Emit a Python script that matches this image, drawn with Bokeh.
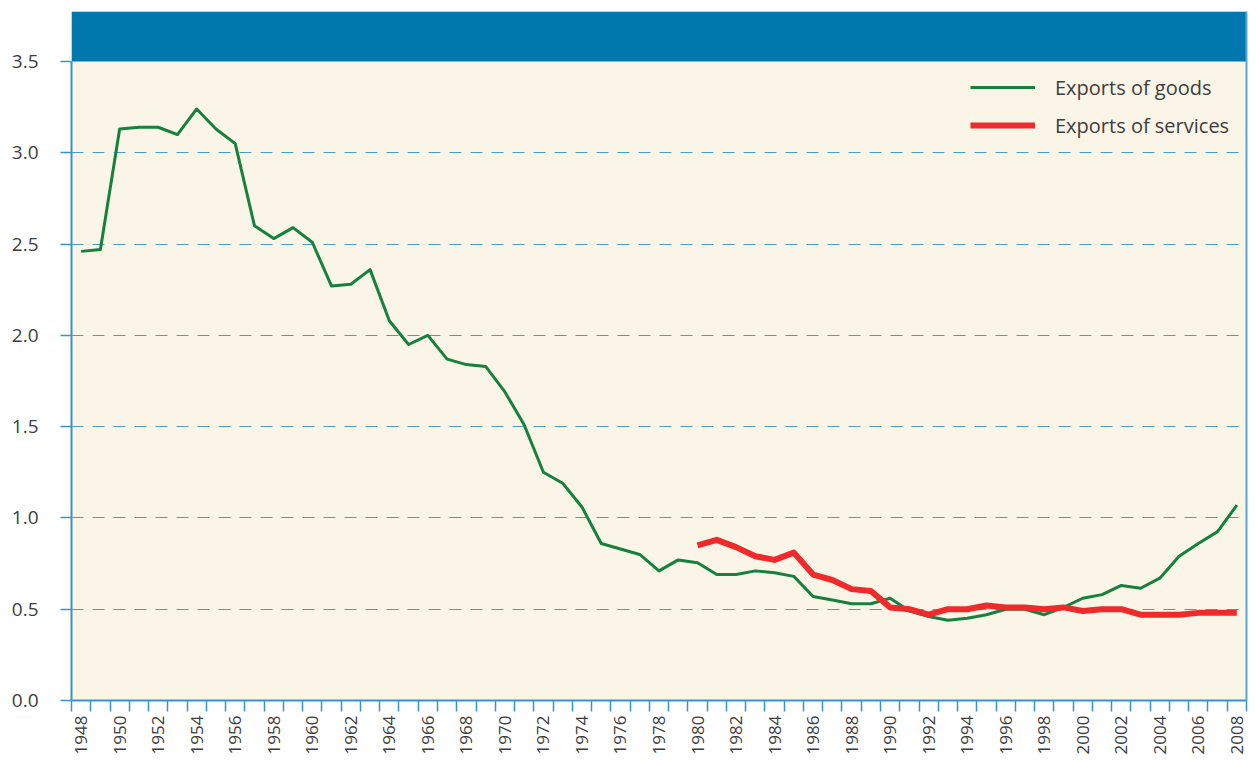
import math
from bokeh.plotting import figure
from bokeh.models import (Range1d, FixedTicker, LinearAxis, BoxAnnotation, Legend,
                          LegendItem, ColumnDataSource, NumeralTickFormatter)
from bokeh.embed import file_html
from bokeh.resources import INLINE

# ---- data ----
goods_years = list(range(1948, 2009))
goods = [2.46, 2.47, 3.13, 3.14, 3.14, 3.10, 3.24, 3.13, 3.05, 2.60,
         2.53, 2.59, 2.51, 2.27, 2.28, 2.36, 2.08, 1.95, 2.00, 1.87,
         1.84, 1.83, 1.69, 1.51, 1.25, 1.19, 1.06, 0.86, 0.83, 0.80,
         0.71, 0.77, 0.755, 0.69, 0.69, 0.71, 0.70, 0.68, 0.57, 0.55,
         0.53, 0.53, 0.56, 0.49, 0.46, 0.44, 0.45, 0.47, 0.50, 0.50,
         0.47, 0.51, 0.56, 0.58, 0.63, 0.615, 0.67, 0.79, 0.86, 0.925,
         1.07]
services_years = list(range(1980, 2009))
services = [0.85, 0.88, 0.84, 0.79, 0.77, 0.81, 0.69, 0.66, 0.61, 0.60,
            0.51, 0.50, 0.47, 0.50, 0.50, 0.52, 0.51, 0.51, 0.50, 0.51,
            0.49, 0.50, 0.50, 0.47, 0.47, 0.47, 0.48, 0.48, 0.48]
y_ticks = [0.0, 0.5, 1.0, 1.5, 2.0, 2.5, 3.0, 3.5]
x_label_years = [y for y in goods_years if y % 2 == 0]
series_names = ["Exports of goods", "Exports of services"]

FONT = "Open Sans"
TEXT = "#3d3d3d"
AXIS = "#3a93c6"
BAND = "#0077ad"
BG = "#fbf5e8"

y_top = 3.5
band_frac = 50.0 / 639.0   # blue band height relative to data area
y_end = y_top * (1 + band_frac)

p = figure(width=1248, height=757, output_backend="svg", toolbar_location=None,
           x_range=Range1d(goods_years[0] - 0.5, goods_years[-1] + 0.5),
           y_range=Range1d(0, y_end),
           min_border_left=71, min_border_right=2, min_border_top=11,
           min_border_bottom=57)
p.background_fill_color = BG
p.border_fill_color = "white"
p.outline_line_color = None

# blue header band
p.add_layout(BoxAnnotation(bottom=y_top, fill_color=BAND, fill_alpha=1.0,
                           line_color=None, level="underlay"))

# grid
p.xgrid.visible = False
p.ygrid.ticker = FixedTicker(ticks=[t for t in y_ticks if 0 < t < y_top])
p.ygrid.grid_line_color = "#2f8ac0"
p.ygrid.grid_line_width = 1.2
p.ygrid.grid_line_dash = "12 9"
p.ygrid.grid_line_alpha = 0.85

# y axis
ya = p.yaxis[0]
ya.ticker = FixedTicker(ticks=y_ticks)
ya.formatter = NumeralTickFormatter(format="0.0")
ya.bounds = (0, y_top)
ya.axis_line_color = AXIS
ya.axis_line_width = 2
ya.major_tick_line_color = AXIS
ya.major_tick_line_width = 1.5
ya.major_tick_out = 11
ya.major_tick_in = 0
ya.minor_tick_line_color = None
ya.major_label_standoff = 22
ya.major_label_text_font = FONT
ya.major_label_text_font_size = "19px"
ya.major_label_text_color = TEXT

# x axis
xa = p.xaxis[0]
xa.ticker = FixedTicker(ticks=goods_years,
                        minor_ticks=[y - 0.5 for y in goods_years] + [goods_years[-1] + 0.5])
xa.major_label_overrides = {y: (str(y) if y in x_label_years else "") for y in goods_years}
xa.axis_line_color = AXIS
xa.axis_line_width = 2
xa.major_tick_out = 0
xa.major_tick_in = 0
xa.major_tick_line_color = None
xa.minor_tick_out = 11
xa.minor_tick_in = 0
xa.minor_tick_line_color = AXIS
xa.minor_tick_line_width = 1.5
xa.major_label_orientation = math.pi / 2
xa.major_label_standoff = 4
xa.major_label_text_font = FONT
xa.major_label_text_font_size = "17px"
xa.major_label_text_color = TEXT

# right border line
ra = LinearAxis(ticker=FixedTicker(ticks=[]), major_label_text_font_size="0px",
                axis_line_color="#5aa8d2", axis_line_width=2,
                major_tick_line_color=None, minor_tick_line_color=None)
p.add_layout(ra, "right")

# lines
src_g = ColumnDataSource(dict(x=goods_years, y=goods))
src_s = ColumnDataSource(dict(x=services_years, y=services))
rg = p.line("x", "y", source=src_g, line_color="#168040", line_width=3, line_join="round")
rs = p.line("x", "y", source=src_s, line_color="#ee2a2b", line_width=6, line_join="round")

legend = Legend(items=[LegendItem(label=series_names[0], renderers=[rg]),
                       LegendItem(label=series_names[1], renderers=[rs])],
                location=(899, 556), padding=0, spacing=0,
                glyph_width=65, glyph_height=38, label_height=38, label_standoff=20,
                label_text_font=FONT, label_text_font_size="20px",
                label_text_color=TEXT, background_fill_alpha=0,
                border_line_color=None, margin=0)
p.add_layout(legend, "center")

open("out.html", "w").write(file_html(p, INLINE))
